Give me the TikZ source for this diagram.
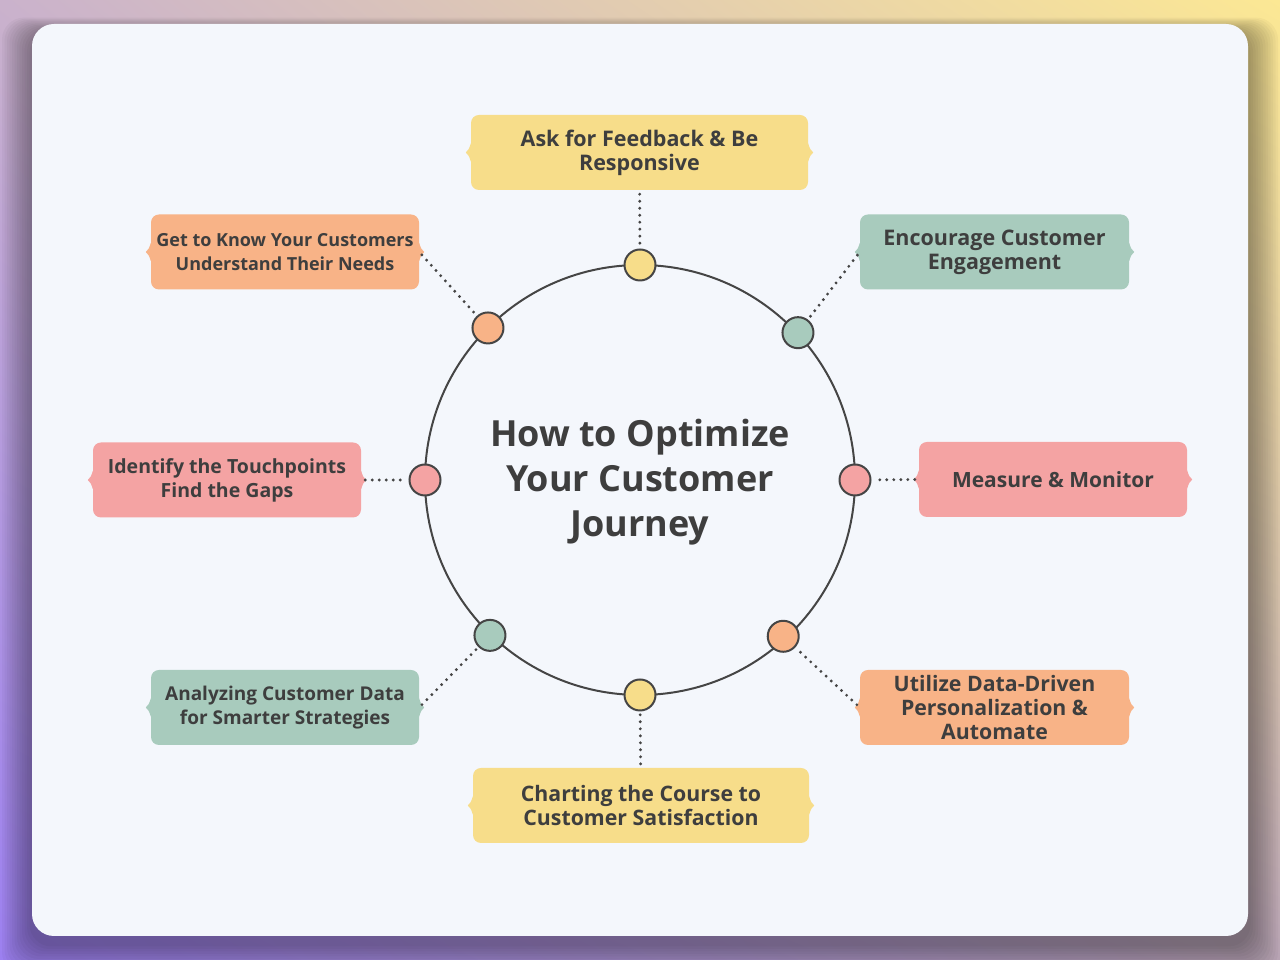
\documentclass[tikz,border=0pt]{standalone}
\usepackage{fontspec}
\setmainfont{Open Sans}
\usetikzlibrary{positioning,shadings}
\definecolor{cjyellow}{HTML}{F7DD8A}
\definecolor{cjgreen}{HTML}{A8CBBD}
\definecolor{cjpink}{HTML}{F4A3A3}
\definecolor{cjorange}{HTML}{F8B387}
\definecolor{cjcard}{HTML}{F4F7FC}
\definecolor{cjink}{HTML}{3E3E3E}
\definecolor{cjline}{HTML}{454545}
\definecolor{cjbgul}{HTML}{CAB2CC}
\definecolor{cjbgur}{HTML}{FCE894}
\definecolor{cjbgll}{HTML}{9C80F0}
\definecolor{cjbglr}{HTML}{B8A4B4}

\tikzset{
  cjbox/.style={rounded corners=8pt,minimum height=75pt,align=center,
    font=\fontsize{#1}{24}\selectfont\bfseries,text=cjink,inner sep=4pt},
  cjbox/.default=21,
  cjdot/.style={circle,draw=cjline,line width=2pt,minimum size=31pt,inner sep=0pt},
  cjlink/.style={draw=cjline,line width=3.2pt,line cap=round,dash pattern=on 0pt off 7pt,
    shorten <=4pt,shorten >=3pt},
}

\begin{document}
\begin{tikzpicture}[x=1pt,y=1pt]
  % backdrop
  \useasboundingbox (0,0) rectangle (1280,960);
  \shade[upper left=cjbgul,upper right=cjbgur,lower left=cjbgll,lower right=cjbglr]
    (0,0) rectangle (1280,960);
  \foreach \i in {1,...,12}
    \fill[black,opacity=0.03,rounded corners=22pt]
      (32-\i*2.5,24-\i*2.5-8) rectangle (1248+\i*2.5,936+\i*1.2-8);
  \fill[cjcard,rounded corners=22pt] (32,24) rectangle (1248,936);

  % ring
  \coordinate (ctr) at (640,480);
  \draw[cjline,line width=2pt] (ctr) circle (215);
  \node[font=\fontsize{36}{45}\selectfont\bfseries,text=cjink,align=center] (title) at (640,478)
    {How to Optimize\\Your Customer\\Journey};

  \node[cjdot,fill=cjyellow] (d1) at ([shift={(90:215)}]ctr) {};
  \node[cjdot,fill=cjgreen] (d2) at ([shift={(43:216)}]ctr) {};
  \node[cjdot,fill=cjpink] (d3) at ([shift={(0:215)}]ctr) {};
  \node[cjdot,fill=cjorange] (d4) at ([shift={(-47.5:212)}]ctr) {};
  \node[cjdot,fill=cjyellow] (d5) at ([shift={(-90:215)}]ctr) {};
  \node[cjdot,fill=cjgreen] (d6) at ([shift={(-134:216)}]ctr) {};
  \node[cjdot,fill=cjpink] (d7) at ([shift={(180:215)}]ctr) {};
  \node[cjdot,fill=cjorange] (d8) at ([shift={(135:215)}]ctr) {};

  % steps
  \node[cjbox=21.5,fill=cjyellow,minimum width=337pt] (fb) at (639.5,807.5) {Ask for Feedback \& Be\\Responsive};
  \node[cjbox=21.5,fill=cjgreen,minimum width=269pt] (enc) at (994.5,708) {Encourage Customer\\Engagement};
  \node[cjbox=21,fill=cjpink,minimum width=268pt] (mea) at (1053,480.5) {Measure \& Monitor};
  \node[cjbox=21.3,fill=cjorange,minimum width=269pt] (uti) at (994.5,252.5) {Utilize Data-Driven\\Personalization \&\\Automate};
  \node[cjbox=21.3,fill=cjyellow,minimum width=336pt] (cha) at (641,154.5) {Charting the Course to\\Customer Satisfaction};
  \node[cjbox=19,fill=cjgreen,minimum width=268pt] (ana) at (285,252.5) {Analyzing Customer Data\\for Smarter Strategies};
  \node[cjbox=19.5,fill=cjpink,minimum width=268pt] (ide) at (227,480) {Identify the Touchpoints\\Find the Gaps};
  \node[cjbox=18,fill=cjorange,minimum width=268pt] (get) at (285,708) {Get to Know Your Customers\\Understand Their Needs};

  % little brace tips
  \foreach \n/\c in {fb/cjyellow,enc/cjgreen,mea/cjpink,uti/cjorange,
                     cha/cjyellow,ana/cjgreen,ide/cjpink,get/cjorange}{
    \fill[\c] ([yshift=9]\n.west) .. controls ([xshift=-2,yshift=3]\n.west) .. ([xshift=-5]\n.west)
      .. controls ([xshift=-2,yshift=-3]\n.west) .. ([yshift=-9]\n.west) -- cycle;
    \fill[\c] ([yshift=9]\n.east) .. controls ([xshift=2,yshift=3]\n.east) .. ([xshift=5]\n.east)
      .. controls ([xshift=2,yshift=-3]\n.east) .. ([yshift=-9]\n.east) -- cycle;
  }

  % links
  \draw[cjlink] (fb) -- (d1);
  \draw[cjlink] (enc.west) -- (d2);
  \draw[cjlink] (mea.west) -- (d3);
  \draw[cjlink] (uti.west) -- (d4);
  \draw[cjlink] (cha) -- (d5);
  \draw[cjlink] (ana.east) -- (d6);
  \draw[cjlink] (ide.east) -- (d7);
  \draw[cjlink] (get.east) -- (d8);
\end{tikzpicture}
\end{document}
